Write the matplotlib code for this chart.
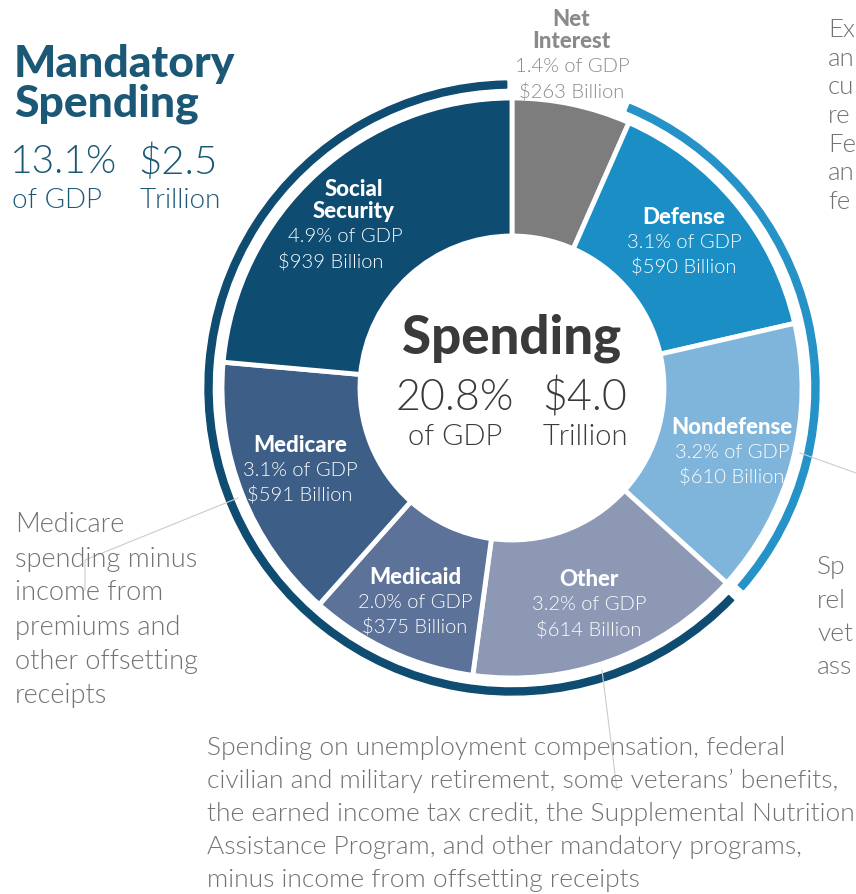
import numpy as np
import matplotlib.pyplot as plt
from matplotlib.patches import Wedge

# datos del grafico (miles de millones de dolares y % del PIB)
categories = ["Net Interest", "Defense", "Nondefense", "Other", "Medicaid", "Medicare", "Social Security"]
billions = [263, 590, 610, 614, 375, 591, 939]
gdp_pct = [1.4, 3.1, 3.2, 3.2, 2.0, 3.1, 4.9]
mandatory = ["Other", "Medicaid", "Medicare", "Social Security"]
discretionary = ["Defense", "Nondefense"]

total_gdp = 20.8
total_trillion = 4.0
mand_gdp = 13.1
mand_trillion = 2.5

colors = ["#7d7d7d", "#1b8fc5", "#7fb5da", "#8d98b5", "#5c7299", "#3d5f87", "#0f4c72"]

W, H = 856, 894
CX, CY = 512, H - 388
R_OUT, R_IN = 290, 152

FONT = "Lato"
GRAY = "#727272"

fig = plt.figure(figsize=(W / 100, H / 100), dpi=100)
ax = fig.add_axes([0, 0, 1, 1])

ax.pie(billions, colors=colors, startangle=90, counterclock=False,
       radius=R_OUT, center=(CX, CY),
       wedgeprops=dict(width=R_OUT - R_IN, edgecolor="white", linewidth=3.5))

# anillos exteriores: obligatorio y discrecional
total = sum(billions)
edges = 90 - 360 * np.cumsum([0] + billions) / total
idx = {c: i for i, c in enumerate(categories)}
mand_start = edges[idx[mandatory[0]]]
mand_end = edges[idx[mandatory[-1]] + 1]
disc_start = edges[idx[discretionary[0]]]
disc_end = edges[idx[discretionary[-1]] + 1]
ax.add_patch(Wedge((CX, CY), 307, mand_end + 1, mand_start - 1.5 + 360, width=7, color="#0f4c72"))
ax.add_patch(Wedge((CX, CY), 307, disc_end + 1.2, disc_start + 1.2, width=7, color="#2592c8"))

ax.set_xlim(0, W)
ax.set_ylim(0, H)
ax.set_aspect("equal")
ax.axis("off")


def T(x, y, s, size, color, weight=300, ha="center"):
    ax.text(x, H - y, s, fontsize=size, color=color, fontweight=weight,
            ha=ha, va="center", family=FONT)


# etiquetas de cada sector: (x nombre, y nombre, x lineas de valores)
label_pos = {
    "Net Interest": (571, 20, 572),
    "Defense": (684, 217, 684),
    "Nondefense": (732, 427, 732),
    "Other": (589, 580, 589),
    "Medicaid": (415, 577, 415),
    "Medicare": (300, 445, 300),
    "Social Security": (354, 190, 345),
}
for cat, b, g in zip(categories, billions, gdp_pct):
    x, y, xv = label_pos[cat]
    col = "#8a8a8a" if cat == "Net Interest" else "white"
    name = cat.replace(" ", "\n") if cat in ("Net Interest", "Social Security") else cat
    lines = name.split("\n")
    for i, ln in enumerate(lines):
        T(x, y + 22 * i, ln, 16, col, weight=900)
    y0 = y + 22 * (len(lines) - 1) + 25
    T(xv, y0, f"{g:.1f}% of GDP", 14.5, col)
    T(xv - (14 if cat == "Social Security" else 0), y0 + 24, f"${b} Billion", 14.5, col)

# texto central
T(512, 338, "Spending", 38, "#3a3a3a", weight=900)
T(455, 398, f"{total_gdp}%", 31, "#3a3a3a")
T(455, 437, "of GDP", 21, "#3a3a3a")
T(585, 398, f"${total_trillion}", 31, "#3a3a3a")
T(585, 437, "Trillion", 21, "#3a3a3a")

# titulo gasto obligatorio
TEAL = "#1b5876"
T(14, 64, "Mandatory", 32, TEAL, weight=900, ha="left")
T(14, 104, "Spending", 32, TEAL, weight=900, ha="left")
T(10, 162, f"{mand_gdp}%", 28, TEAL, ha="left")
T(12, 201, "of GDP", 20, TEAL, ha="left")
T(138, 162, f"${mand_trillion}", 29, TEAL, ha="left")
T(140, 201, "Trillion", 20, TEAL, ha="left")

# notas
medicare_note = ["Medicare", "spending minus", "income from", "premiums and",
                 "other offsetting", "receipts"]
for i, ln in enumerate(medicare_note):
    T(15, 525 + 34 * i, ln, 19.5, GRAY, ha="left")

other_note = [
    "Spending on unemployment compensation, federal",
    "civilian and military retirement, some veterans\u2019 benefits,",
    "the earned income tax credit, the Supplemental Nutrition",
    "Assistance Program, and other mandatory programs,",
    "minus income from offsetting receipts",
]
for i, ln in enumerate(other_note):
    T(207, 748 + 33 * i, ln, 19, GRAY, ha="left")

top_right = ["Ex", "an", "cu", "re", "Fe", "an", "fe"]
for i, ln in enumerate(top_right):
    T(828, 30 + 28.7 * i, ln, 18.5, GRAY, ha="left")

low_right = ["Sp", "rel", "vet", "ass"]
for i, ln in enumerate(low_right):
    T(817, 567 + 33.5 * i, ln, 19, GRAY, ha="left")

# lineas guia
lc = dict(color="#cccccc", lw=0.8)
ax.plot([238, 85, 85], [H - 498, H - 560, H - 590], **lc)
ax.plot([602, 617], [H - 670, H - 790], **lc)
ax.plot([800, 856], [H - 453, H - 473], **lc)

fig.savefig("out.png", dpi=100)
